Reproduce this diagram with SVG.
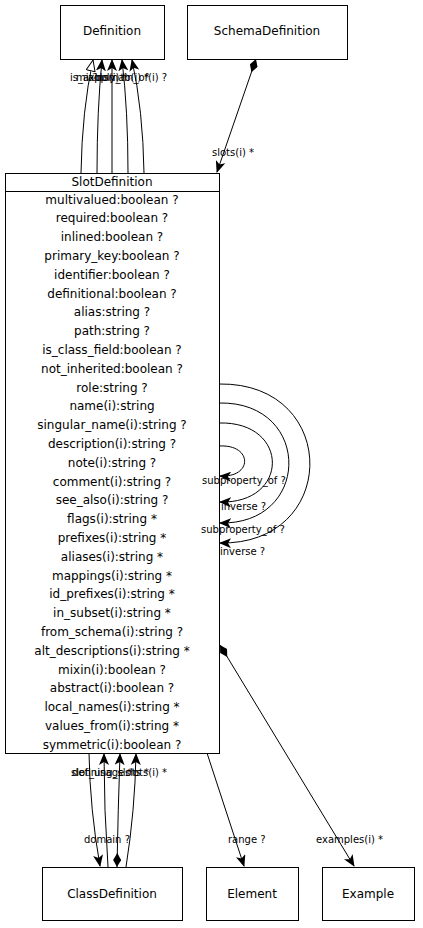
<svg xmlns="http://www.w3.org/2000/svg" width="423" height="928" viewBox="0 0 423 928">
<style>
.box{fill:#fff;stroke:#000;stroke-width:1}
text{font-family:"DejaVu Sans",Verdana,sans-serif;fill:#000}
.t{font-size:12px;text-anchor:middle}
.a{font-size:12px;text-anchor:middle}
.l{font-size:10px}
.e{fill:none;stroke:#000;stroke-width:1}
.arr{marker-end:url(#vee)}
.gen{marker-end:url(#tri)}
.dia{marker-start:url(#dmd)}
</style>
<defs>
<marker id="vee" viewBox="0 0 12 10" refX="11" refY="5" markerWidth="12" markerHeight="10" markerUnits="userSpaceOnUse" orient="auto">
<path d="M0,0 L12,5 L0,10 L3,5 z" fill="#000"/>
</marker>
<marker id="tri" viewBox="0 0 12 10" refX="11.5" refY="5" markerWidth="12" markerHeight="10" markerUnits="userSpaceOnUse" orient="auto">
<path d="M0.5,0.5 L11.5,5 L0.5,9.5 z" fill="#fff" stroke="#000"/>
</marker>
<marker id="dmd" viewBox="0 0 14 8" refX="0" refY="4" markerWidth="14" markerHeight="8" markerUnits="userSpaceOnUse" orient="auto">
<path d="M0,4 L7,0 L14,4 L7,8 z" fill="#000"/>
</marker>
</defs>

<g id="Definition">
<rect class="box" x="60.5" y="5.5" width="104" height="54"/>
<text class="t" x="112" y="35">Definition</text>
</g>
<g id="SchemaDefinition">
<rect class="box" x="187.5" y="5.5" width="160" height="54"/>
<text class="t" x="267" y="35">SchemaDefinition</text>
</g>

<g id="SlotDefinition">
<rect class="box" x="5.5" y="173.5" width="214" height="580"/>
<line x1="5.5" y1="191.5" x2="219.5" y2="191.5" stroke="#000"/>
<text class="t" x="112" y="186">SlotDefinition</text>
<text class="a" x="112" y="203.5">multivalued:boolean ?</text>
<text class="a" x="112" y="222.3">required:boolean ?</text>
<text class="a" x="112" y="241.1">inlined:boolean ?</text>
<text class="a" x="112" y="259.9">primary_key:boolean ?</text>
<text class="a" x="112" y="278.7">identifier:boolean ?</text>
<text class="a" x="112" y="297.5">definitional:boolean ?</text>
<text class="a" x="112" y="316.3">alias:string ?</text>
<text class="a" x="112" y="335.1">path:string ?</text>
<text class="a" x="112" y="353.9">is_class_field:boolean ?</text>
<text class="a" x="112" y="372.7">not_inherited:boolean ?</text>
<text class="a" x="112" y="391.5">role:string ?</text>
<text class="a" x="112" y="410.3">name(i):string</text>
<text class="a" x="112" y="429.1">singular_name(i):string ?</text>
<text class="a" x="112" y="447.9">description(i):string ?</text>
<text class="a" x="112" y="466.7">note(i):string ?</text>
<text class="a" x="112" y="485.5">comment(i):string ?</text>
<text class="a" x="112" y="504.3">see_also(i):string ?</text>
<text class="a" x="112" y="523.1">flags(i):string *</text>
<text class="a" x="112" y="541.9">prefixes(i):string *</text>
<text class="a" x="112" y="560.7">aliases(i):string *</text>
<text class="a" x="112" y="579.5">mappings(i):string *</text>
<text class="a" x="112" y="598.3">id_prefixes(i):string *</text>
<text class="a" x="112" y="617.1">in_subset(i):string *</text>
<text class="a" x="112" y="635.9">from_schema(i):string ?</text>
<text class="a" x="112" y="654.7">alt_descriptions(i):string *</text>
<text class="a" x="112" y="673.5">mixin(i):boolean ?</text>
<text class="a" x="112" y="692.3">abstract(i):boolean ?</text>
<text class="a" x="112" y="711.1">local_names(i):string *</text>
<text class="a" x="112" y="729.9">values_from(i):string *</text>
<text class="a" x="112" y="748.7">symmetric(i):boolean ?</text>
</g>

<g id="ClassDefinition">
<rect class="box" x="42.5" y="867.5" width="140" height="53"/>
<text class="t" x="112" y="898">ClassDefinition</text>
</g>
<g id="Element">
<rect class="box" x="206.5" y="867.5" width="92" height="53"/>
<text class="t" x="252" y="898">Element</text>
</g>
<g id="Example">
<rect class="box" x="322.5" y="867.5" width="92" height="53"/>
<text class="t" x="368" y="898">Example</text>
</g>

<g id="connectors">
<path class="e gen" d="M81,173 Q82,110 93,60"/>
<path class="e arr" d="M97,173 Q97,110 102,60"/>
<path class="e arr" d="M112,173 L112,60"/>
<path class="e arr" d="M128,173 Q128,110 122,60"/>
<path class="e arr" d="M144,173 Q143,110 132,60"/>
<text class="l" x="70" y="81">is_a ?</text>
<text class="l" x="76" y="81">mixins(i) *</text>
<text class="l" x="88" y="81">apply_to(i) *</text>
<text class="l" x="96" y="81">domain_of(i) ?</text>

<path class="e dia arr" d="M256,59 L217,172"/>
<text class="l" x="212" y="156">slots(i)  *</text>

<path class="e arr" d="M219,384 C340,382 340,545 220,543"/>
<path class="e arr" d="M219,403 C312,401 312,525 220,523"/>
<path class="e arr" d="M219,423 C290,421 290,504 220,502"/>
<path class="e arr" d="M219,446 C253,444 253,478 220,476"/>
<text class="l" x="202" y="484">subproperty_of ?</text>
<text class="l" x="221" y="510">inverse ?</text>
<text class="l" x="201" y="533">subproperty_of ?</text>
<text class="l" x="220" y="555">inverse ?</text>

<path class="e arr" d="M89,753 Q90,810 100,866"/>
<path class="e arr" d="M108,867 Q104,810 104,754"/>
<path class="e dia arr" d="M117,867 Q118,810 120,754"/>
<path class="e arr" d="M126,867 Q135,810 136,754"/>
<text class="l" x="71" y="776">slot_usage *</text>
<text class="l" x="72" y="776">defining_slots *</text>
<text class="l" x="125" y="776">slots(i)  *</text>
<text class="l" x="84" y="843">domain ?</text>

<path class="e arr" d="M207,753 L244,866"/>
<text class="l" x="228" y="843">range ?</text>

<path class="e dia arr" d="M220,645 L354,866"/>
<text class="l" x="316" y="843">examples(i)  *</text>
</g>
</svg>
